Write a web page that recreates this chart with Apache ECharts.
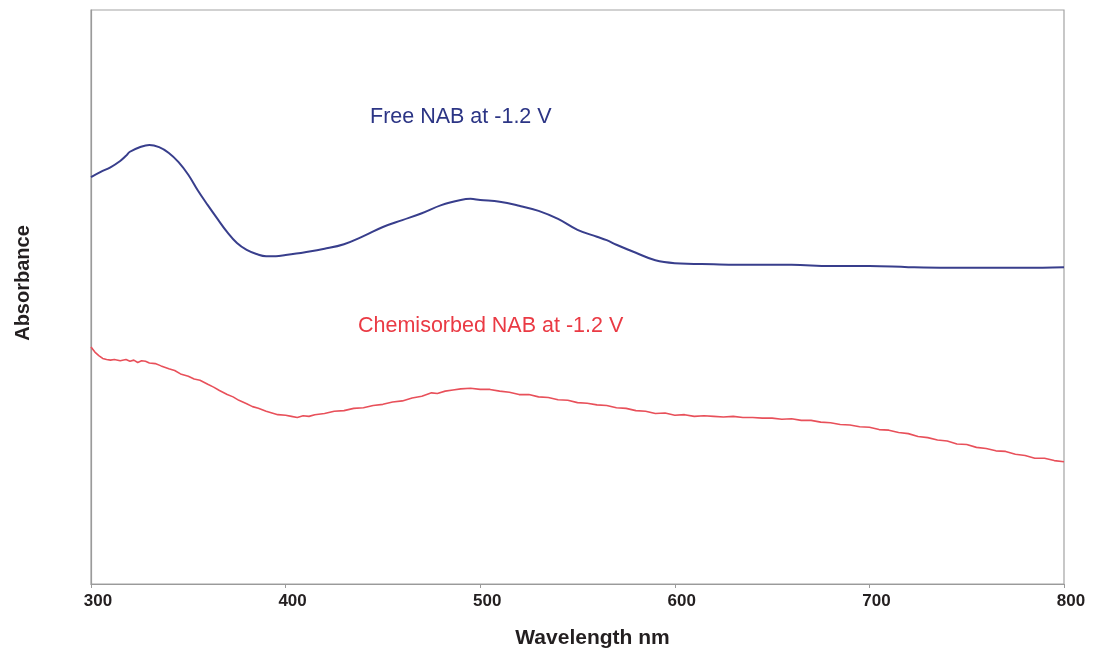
<!DOCTYPE html>
<html>
<head>
<meta charset="utf-8">
<script src="https://cdn.jsdelivr.net/npm/echarts@6/dist/echarts.min.js"></script>
<style>
  html, body { margin: 0; padding: 0; background: #fff; }
  #chart { width: 1094px; height: 656px; }
</style>
</head>
<body>
<div id="chart"></div>
<script>
// UV-Vis spectra of NAB at -1.2 V (absorbance, arbitrary units)
const freeWavelength = [300, 305, 310, 315, 318, 320, 325, 330, 335, 340, 345, 350, 355, 360, 365, 370, 375, 380, 385, 390, 395, 400, 410, 420, 430, 440, 450, 460, 470, 480, 490, 495, 500, 510, 520, 530, 540, 550, 560, 565, 570, 580, 590, 600, 620, 640, 660, 680, 700, 720, 740, 760, 780, 800];
const freeAbsorbance = [0.709, 0.718, 0.726, 0.737, 0.746, 0.753, 0.761, 0.765, 0.761, 0.751, 0.735, 0.713, 0.685, 0.660, 0.636, 0.613, 0.594, 0.582, 0.575, 0.571, 0.571, 0.573, 0.578, 0.584, 0.592, 0.606, 0.622, 0.634, 0.646, 0.660, 0.669, 0.671, 0.669, 0.666, 0.659, 0.650, 0.636, 0.617, 0.605, 0.599, 0.591, 0.577, 0.564, 0.559, 0.557, 0.556, 0.556, 0.554, 0.554, 0.552, 0.551, 0.551, 0.551, 0.552];

const chemWavelength = [300, 302, 304, 306, 308, 310, 312, 315, 318, 320, 322, 324, 326, 328, 330, 333, 336, 340, 343, 346, 350, 353, 356, 360, 363, 366, 370, 373, 376, 380, 383, 386, 390, 393, 396, 400, 403, 406, 409, 412, 415, 420, 425, 430, 435, 440, 445, 450, 455, 460, 465, 470, 475, 478, 482, 486, 490, 495, 500, 505, 510, 515, 520, 525, 530, 535, 540, 545, 550, 555, 560, 565, 570, 575, 580, 585, 590, 595, 600, 605, 610, 615, 620, 625, 630, 635, 640, 645, 650, 655, 660, 665, 670, 675, 680, 685, 690, 695, 700, 705, 710, 715, 720, 725, 730, 735, 740, 745, 750, 755, 760, 765, 770, 775, 780, 785, 790, 795, 800];
const chemAbsorbance = [0.413, 0.404, 0.398, 0.393, 0.391, 0.390, 0.391, 0.389, 0.391, 0.388, 0.390, 0.386, 0.389, 0.388, 0.385, 0.384, 0.380, 0.375, 0.372, 0.366, 0.362, 0.357, 0.355, 0.348, 0.343, 0.337, 0.330, 0.326, 0.320, 0.314, 0.309, 0.306, 0.301, 0.298, 0.295, 0.294, 0.292, 0.290, 0.293, 0.292, 0.295, 0.297, 0.301, 0.302, 0.306, 0.307, 0.311, 0.313, 0.317, 0.319, 0.324, 0.327, 0.333, 0.332, 0.336, 0.338, 0.340, 0.341, 0.339, 0.339, 0.336, 0.334, 0.330, 0.330, 0.326, 0.325, 0.321, 0.320, 0.316, 0.315, 0.312, 0.311, 0.307, 0.306, 0.302, 0.301, 0.297, 0.298, 0.294, 0.295, 0.292, 0.293, 0.292, 0.291, 0.292, 0.290, 0.290, 0.289, 0.289, 0.287, 0.288, 0.285, 0.285, 0.282, 0.281, 0.278, 0.277, 0.274, 0.273, 0.269, 0.268, 0.264, 0.262, 0.257, 0.255, 0.251, 0.249, 0.244, 0.243, 0.238, 0.236, 0.232, 0.231, 0.226, 0.224, 0.219, 0.219, 0.215, 0.213];

const xTicks = [300, 400, 500, 600, 700, 800];
const seriesNames = ['Free NAB at -1.2 V', 'Chemisorbed NAB at -1.2 V'];

const pair = (xs, ys) => xs.map((x, i) => [x, ys[i]]);

const font = 'Arial, "Liberation Sans", Helvetica, sans-serif';
const chart = echarts.init(document.getElementById('chart'), null, { renderer: 'canvas' });

chart.setOption({
  backgroundColor: '#ffffff',
  animation: false,
  grid: {
    left: 91, right: 30, top: 10, bottom: 72,
    show: true, borderColor: '#a3a3a3', borderWidth: 1.2, backgroundColor: 'transparent'
  },
  xAxis: {
    type: 'value',
    min: xTicks[0],
    max: xTicks[xTicks.length - 1],
    interval: 100,
    name: 'Wavelength nm',
    nameLocation: 'middle',
    nameGap: 44,
    nameTextStyle: { fontFamily: font, fontWeight: 'bold', fontSize: 21, color: '#231f20', padding: [0, 0, 0, 30] },
    axisLine: { show: true, lineStyle: { color: '#9a9a9a', width: 1.2 } },
    axisTick: { show: true, length: 4, inside: false, lineStyle: { color: '#9a9a9a' } },
    axisLabel: { fontFamily: font, fontWeight: 'bold', fontSize: 17, color: '#231f20', margin: 9, padding: [0, 0, 0, 14] },
    splitLine: { show: false }
  },
  yAxis: {
    type: 'value',
    min: 0,
    max: 1,
    name: 'Absorbance',
    nameLocation: 'middle',
    nameGap: 58,
    nameTextStyle: { fontFamily: font, fontWeight: 'bold', fontSize: 20, color: '#231f20', padding: [0, 0, 0, 28] },
    axisLine: { show: true, lineStyle: { color: '#9a9a9a', width: 1.2 } },
    axisTick: { show: false },
    axisLabel: { show: false },
    splitLine: { show: false }
  },
  graphic: [
    {
      type: 'text', left: 370, top: 106,
      style: { text: seriesNames[0], fontFamily: font, fontSize: 21.5, fill: '#2c3585' }
    },
    {
      type: 'text', left: 358, top: 315,
      style: { text: seriesNames[1], fontFamily: font, fontSize: 21.5, fill: '#ea3a44' }
    }
  ],
  series: [
    {
      name: seriesNames[0],
      type: 'line',
      data: pair(freeWavelength, freeAbsorbance),
      smooth: 0.4,
      showSymbol: false,
      lineStyle: { color: '#383e8c', width: 2 }
    },
    {
      name: seriesNames[1],
      type: 'line',
      data: pair(chemWavelength, chemAbsorbance),
      smooth: false,
      showSymbol: false,
      lineStyle: { color: '#e8505a', width: 1.6 }
    }
  ]
});
</script>
</body>
</html>
